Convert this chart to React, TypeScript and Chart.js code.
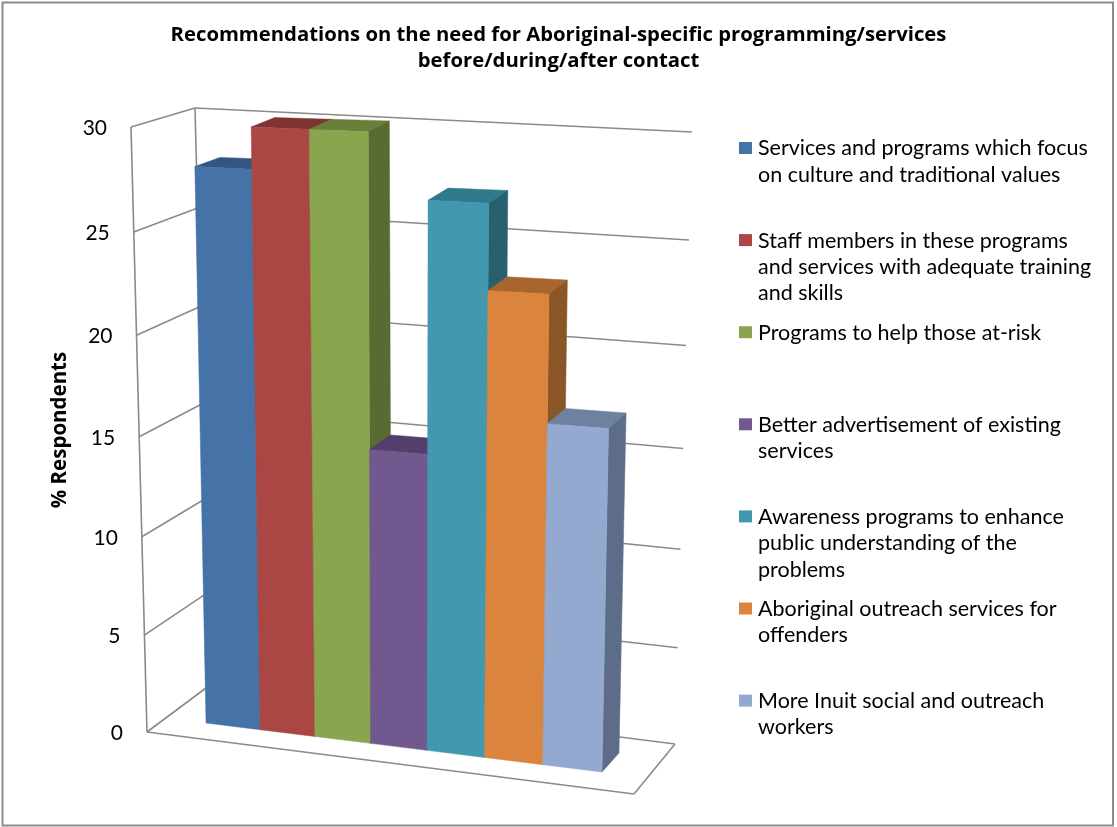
import React, { useEffect, useRef } from "react";
import { Chart, registerables } from "chart.js";

Chart.register(...registerables);

const categories = ["Before/during/after contact"];
const titleLines = [
  "Recommendations on the need for Aboriginal-specific programming/services",
  "before/during/after contact",
];
const yAxisTitle = "% Respondents";
const seriesLabels = [
  ["Services and programs which focus", "on culture and traditional values"],
  ["Staff members in these programs", "and services with adequate training", "and skills"],
  ["Programs to help those at-risk"],
  ["Better advertisement of existing", "services"],
  ["Awareness programs to enhance", "public understanding of the", "problems"],
  ["Aboriginal outreach services for", "offenders"],
  ["More Inuit social and outreach", "workers"],
];
const seriesValues = [28, 30, 30, 14.85, 26.95, 22.9, 16.8];
const frontColors = ["#4572A7", "#AA4643", "#89A54E", "#71588F", "#4198AF", "#DB843D", "#93A9CF"];
const topColors = ["#345580", "#803432", "#697F3A", "#533F6C", "#2F7A8D", "#A8652E", "#6F81A1"];
const sideColors = ["#2D4A70", "#6E2C2A", "#596B31", "#47365E", "#286070", "#8A5627", "#5D6C88"];

type Pt = [number, number];
type Quad = [Pt, Pt, Pt, Pt]; // (0,0) (1,0) (1,1) (0,1) in (u, v)

// Square-to-quad projective mapping.
function makeProjection(q: Quad) {
  const [[x0, y0], [x1, y1], [x2, y2], [x3, y3]] = q;
  const dx1 = x1 - x2, dx2 = x3 - x2, sx = x0 - x1 + x2 - x3;
  const dy1 = y1 - y2, dy2 = y3 - y2, sy = y0 - y1 + y2 - y3;
  const den = dx1 * dy2 - dx2 * dy1;
  const g = (sx * dy2 - dx2 * sy) / den;
  const h = (dx1 * sy - sx * dy1) / den;
  const a = x1 - x0 + g * x1, b = x3 - x0 + h * x3, c = x0;
  const d = y1 - y0 + g * y1, e = y3 - y0 + h * y3, f = y0;
  return (u: number, v: number): Pt => {
    const w = g * u + h * v + 1;
    return [(a * u + b * v + c) / w, (d * u + e * v + f) / w];
  };
}

// Foreshortening along the side wall, whose edges are nearly parallel.
const bend = (t: number, k: number) => (t * (1 + k)) / (1 + k * t);
const KV = -0.043;

const barFront = makeProjection([[206, 723], [602, 772], [614, 142], [194, 124.5]]);
const barBack = makeProjection([[231, 704], [619, 753], [632, 128], [219, 116]]);
const backWall = makeProjection([[210, 685], [675, 744], [692, 132], [195, 108]]);
const sideWall = makeProjection([[147, 732], [210, 685], [195, 108], [131, 127]]);

function poly(ctx: CanvasRenderingContext2D, pts: Pt[], fill: string) {
  ctx.beginPath();
  pts.forEach((p, i) => (i ? ctx.lineTo(p[0], p[1]) : ctx.moveTo(p[0], p[1])));
  ctx.closePath();
  ctx.fillStyle = fill;
  ctx.fill();
  ctx.strokeStyle = fill;
  ctx.lineWidth = 0.5;
  ctx.stroke();
}

function segment(ctx: CanvasRenderingContext2D, a: Pt, b: Pt) {
  ctx.beginPath();
  ctx.moveTo(a[0], a[1]);
  ctx.lineTo(b[0], b[1]);
  ctx.stroke();
}

const frame3d = {
  id: "frame3d",
  beforeDatasetsDraw(chart: any) {
    const { ctx } = chart;
    const yScale = chart.scales.y;
    const area = chart.chartArea;
    ctx.save();
    // outer frame
    ctx.strokeStyle = "#8C8C8C";
    ctx.lineWidth = 2;
    ctx.strokeRect(2.5, 2.5, 1110.5, 823);

    ctx.strokeStyle = "#8A8A8A";
    ctx.lineWidth = 1.6;
    // floor
    const floorFrontR: Pt = [634, 794];
    segment(ctx, sideWall(0, 0), floorFrontR);
    segment(ctx, floorFrontR, backWall(1, 0));
    // walls and gridlines
    for (const tick of yScale.ticks) {
      const t = (area.bottom - yScale.getPixelForValue(tick.value)) / area.height;
      const v = bend(t, KV);
      segment(ctx, sideWall(0, v), sideWall(1, v));
      segment(ctx, backWall(0, t), backWall(1, t));
      const p = sideWall(0, v);
      ctx.fillStyle = "#000";
      ctx.font = "21px Lato";
      ctx.textAlign = "right";
      ctx.textBaseline = "middle";
      ctx.fillText(tick.label, p[0] - 24, p[1] + 1);
    }
    segment(ctx, sideWall(0, 0), sideWall(0, 1));
    segment(ctx, sideWall(1, 0), sideWall(1, 1));

    // bars, left to right, each one hiding the side of the previous one
    seriesValues.forEach((_, i) => {
      const el = chart.getDatasetMeta(i).data[0];
      const uL = (el.x - el.width / 2 - area.left) / area.width;
      const uR = (el.x + el.width / 2 - area.left) / area.width;
      const vT = (area.bottom - el.y) / area.height;
      const vB = (area.bottom - el.base) / area.height;
      poly(ctx, [barFront(uL, vT), barFront(uR, vT), barBack(uR, vT), barBack(uL, vT)], topColors[i]);
      poly(ctx, [barFront(uR, vB), barBack(uR, vB), barBack(uR, vT), barFront(uR, vT)], sideColors[i]);
      poly(ctx, [barFront(uL, vB), barFront(uR, vB), barFront(uR, vT), barFront(uL, vT)], frontColors[i]);
    });
    ctx.restore();
  },
  beforeDatasetDraw() {
    return false;
  },
  afterDraw(chart: any) {
    const { ctx } = chart;
    ctx.save();
    // y axis title
    ctx.save();
    ctx.translate(60, 430);
    ctx.rotate(-Math.PI / 2);
    ctx.font = 'bold 20.5px "Open Sans"';
    ctx.fillStyle = "#000";
    ctx.textAlign = "center";
    ctx.textBaseline = "middle";
    ctx.fillText(yAxisTitle, 0, 0);
    ctx.restore();
    // legend
    ctx.font = "21.5px Lato";
    ctx.textAlign = "left";
    ctx.textBaseline = "middle";
    seriesLabels.forEach((lines, i) => {
      const y0 = 148.5 + 92.1 * i;
      ctx.fillStyle = frontColors[i];
      ctx.fillRect(739, y0 - 6.5, 13, 12);
      ctx.fillStyle = "#000";
      lines.forEach((line, j) => ctx.fillText(line, 758, y0 + j * 26.4));
    });
    ctx.restore();
  },
};

export default function App() {
  const ref = useRef<HTMLCanvasElement | null>(null);
  useEffect(() => {
    const chart = new Chart(ref.current as HTMLCanvasElement, {
      type: "bar",
      data: {
        labels: categories,
        datasets: seriesValues.map((v, i) => ({
          label: seriesLabels[i].join(" "),
          data: [v],
          backgroundColor: frontColors[i],
        })),
      },
      options: {
        responsive: false,
        animation: false,
        layout: { padding: { left: 10, right: 10, top: 22, bottom: 30 } },
        datasets: { bar: { categoryPercentage: 1, barPercentage: 1 } },
        scales: {
          x: { display: false },
          y: { display: false, min: 0, max: 30, ticks: { stepSize: 5 } },
        },
        plugins: {
          legend: { display: false },
          tooltip: { enabled: false },
          title: {
            display: true,
            text: titleLines,
            color: "#000",
            font: { family: "Open Sans", size: 20.3, weight: "bold", lineHeight: 1.3 },
            padding: { top: 0, bottom: 10 },
          },
        },
      },
      plugins: [frame3d],
    } as any);
    return () => chart.destroy();
  }, []);
  return (
    <div style={{ position: "absolute", left: 0, top: 0, width: 1117, height: 827, background: "#fff" }}>
      <canvas ref={ref} width={1117} height={827} style={{ display: "block" }} />
    </div>
  );
}
